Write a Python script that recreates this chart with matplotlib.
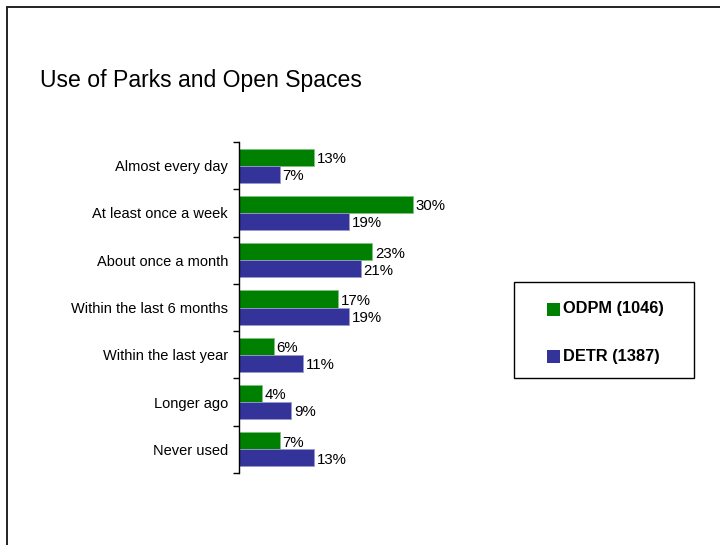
import numpy as np
import matplotlib
matplotlib.use('Agg')
from matplotlib import (pyplot as plt, patches as pat)

plt.rcParams['font.family'] = ['Liberation Sans', 'DejaVu Sans']

# ---------------------------------------------------------
categories = ['Almost every day', 'At least once a week', 'About once a month',
              'Within the last 6 months', 'Within the last year', 'Longer ago',
              'Never used']
odpm = [13, 30, 23, 17, 6, 4, 7]
detr = [7, 19, 21, 19, 11, 9, 13]
series_names = ['ODPM (1046)', 'DETR (1387)']
col_g, col_b = '#008000', '#333399'

# =========================================================
fig = plt.figure(figsize=(7.2, 5.45), dpi=100)
W, H = 720., 545.

# slide frame
fig.add_artist(pat.Rectangle((7 / W, -0.1), 1.2, 1 - 7 / H + 0.1,
    transform=fig.transFigure, fill=False, edgecolor='#222222', linewidth=1.4))
fig.text(40 / W, 1 - 80 / H, 'Use of Parks and Open Spaces',
    fontsize=16.6, va='center', ha='left')

ax = fig.add_axes([239 / W, 1 - 473 / H, 232 / W, (473 - 142) / H])
n = len(categories)
y = np.arange(n)
bh = 0.36
ax.barh(y - bh / 2, odpm, height=bh, color=col_g, edgecolor='#7fbf7f', linewidth=0.6)
ax.barh(y + bh / 2, detr, height=bh, color=col_b, edgecolor='#9999cc', linewidth=0.6)
for i in range(n):
    ax.text(odpm[i] + 0.5, y[i] - bh / 2 + 0.04, f'{odpm[i]}%', va='center', ha='left', fontsize=10.8)
    ax.text(detr[i] + 0.5, y[i] + bh / 2 + 0.04, f'{detr[i]}%', va='center', ha='left', fontsize=10.8)

ax.set_xlim(0, 40); ax.set_ylim(n - 0.5, -0.5)
ax.set_yticks(y); ax.set_yticklabels(categories, fontsize=10.5)
ax.set_yticks(np.arange(n + 1) - 0.5, minor=True)
ax.tick_params(axis='y', which='major', length=0, pad=8)
ax.tick_params(axis='y', which='minor', length=4, width=1)
ax.set_xticks([])
for s in ['top', 'right', 'bottom']:
    ax.spines[s].set_visible(False)
ax.spines['left'].set_linewidth(1)

# legend
fig.add_artist(pat.Rectangle((514 / W, 1 - 378 / H), 180 / W, 96 / H,
    transform=fig.transFigure, fill=False, edgecolor='black', linewidth=1))
for k, (nm, c) in enumerate(zip(series_names, [col_g, col_b])):
    yc = 309 + 47 * k
    fig.add_artist(pat.Rectangle((547 / W, 1 - (yc + 6.5) / H), 13 / W, 13 / H,
        transform=fig.transFigure, facecolor=c, edgecolor='none'))
    fig.text(563 / W, 1 - yc / H, nm, fontsize=11.8, fontweight='bold',
        va='center', ha='left')

fig.savefig('out.png', dpi=100)
